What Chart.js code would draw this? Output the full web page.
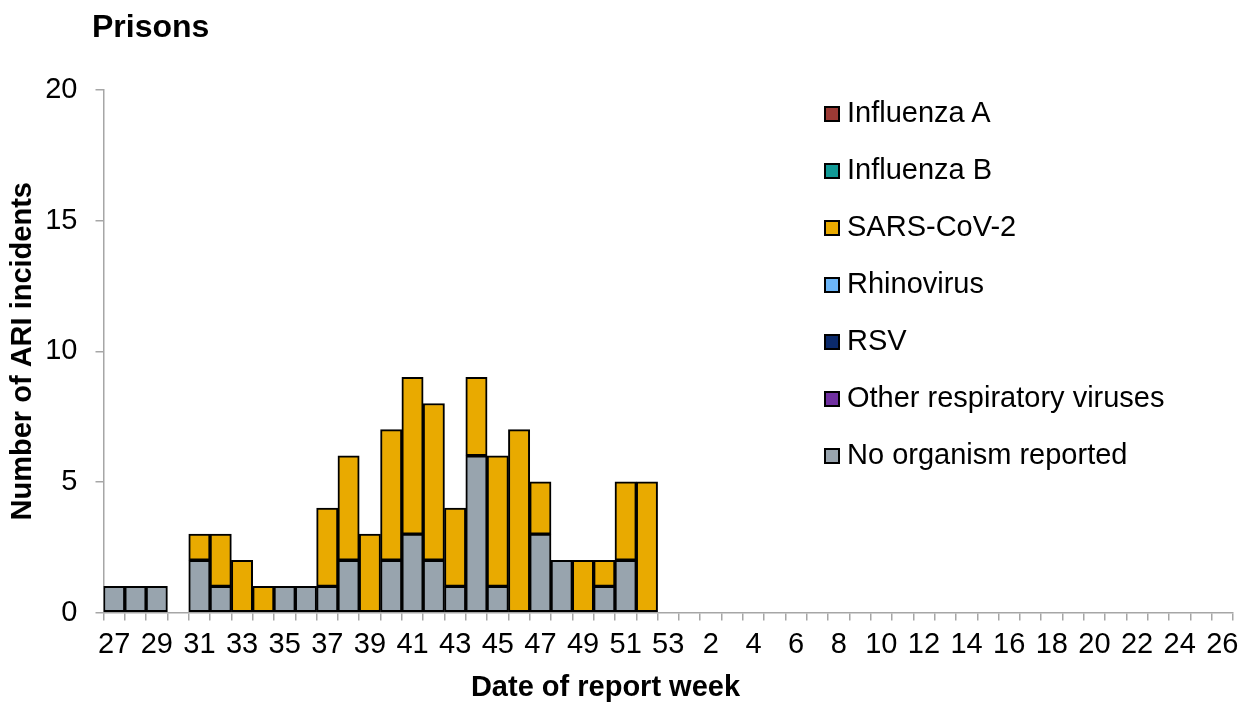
<!DOCTYPE html>
<html>
<head>
<meta charset="utf-8">
<title>Prisons</title>
<script src="https://cdn.jsdelivr.net/npm/chart.js@4.4.1/dist/chart.umd.min.js"></script>
<style>
    body { margin: 0; background: #fff; font-family: "Liberation Sans", Arial, sans-serif; color: #000; }
    #wrap { position: relative; width: 1242px; height: 702px; }
    #chart { position: absolute; left: 0; top: 0; }
    #title { position: absolute; left: 92px; top: 10px; font-size: 32px; line-height: 32px; font-weight: bold; }
    #xTitle { position: absolute; left: 0; width: 1211px; top: 672px; text-align: center; font-size: 29px; line-height: 29px; font-weight: bold; }
    #legend { position: absolute; left: 824px; top: 84px; }
    .item { height: 57px; display: flex; align-items: center; font-size: 29px; white-space: nowrap; }
    .box { width: 12px; height: 12px; border: 2.5px solid #000; margin-right: 7px; margin-top: 3px; }
</style>
</head>
<body>
<div id="wrap">
    <canvas id="chart" width="1242" height="702"></canvas>
    <div id="title">Prisons</div>
    <div id="xTitle">Date of report week</div>
    <div id="legend"></div>
</div>
<script>
// Report weeks (27-53 then 1-26)
const weeks = ["27", "28", "29", "30", "31", "32", "33", "34", "35", "36", "37", "38", "39", "40",
    "41", "42", "43", "44", "45", "46", "47", "48", "49", "50", "51", "52", "53",
    "1", "2", "3", "4", "5", "6", "7", "8", "9", "10", "11", "12", "13", "14", "15", "16", "17",
    "18", "19", "20", "21", "22", "23", "24", "25", "26"];

// Incident counts per week
const noOrganism = [1, 1, 1, 0, 2, 1, 0, 0, 1, 1, 1, 2, 0, 2, 3, 2, 1, 6, 1, 0, 3, 2, 0, 1, 2, 0, 0,
    0, 0, 0, 0, 0, 0, 0, 0, 0, 0, 0, 0, 0, 0, 0, 0, 0, 0, 0, 0, 0, 0, 0, 0, 0, 0];
const sarsCov2 = [0, 0, 0, 0, 1, 2, 2, 1, 0, 0, 3, 4, 3, 5, 6, 6, 3, 3, 5, 7, 2, 0, 2, 1, 3, 5, 0,
    0, 0, 0, 0, 0, 0, 0, 0, 0, 0, 0, 0, 0, 0, 0, 0, 0, 0, 0, 0, 0, 0, 0, 0, 0, 0];
// no incidents reported for these
const influenzaA = [];
const influenzaB = [];
const rhinovirus = [];
const rsv = [];
const otherViruses = [];

const yTicks = [0, 5, 10, 15, 20];

// legend order (top to bottom)
const seriesNames = ["Influenza A", "Influenza B", "SARS-CoV-2", "Rhinovirus", "RSV",
    "Other respiratory viruses", "No organism reported"];
const seriesData = [influenzaA, influenzaB, sarsCov2, rhinovirus, rsv, otherViruses, noOrganism];
const seriesColors = ["#9C3A35", "#119A96", "#E9AA00", "#6CB6F8", "#0B2A6B", "#7030A0", "#98A4AE"];

const FONT = "'Liberation Sans', Arial, sans-serif";
const AXIS_GREY = "#A6A6A6";

// stacked bottom-up: last legend entry sits at the bottom
const datasets = seriesNames.map((name, i) => ({
    label: name,
    data: seriesData[i],
    backgroundColor: seriesColors[i],
    borderColor: "#000",
    borderWidth: 2,
    borderSkipped: false,
    barPercentage: 1,
    categoryPercentage: 1
})).reverse();

const ctx = document.getElementById("chart").getContext("2d");
const chart = new Chart(ctx, {
    type: "bar",
    data: { labels: weeks, datasets: datasets },
    options: {
        responsive: false,
        animation: false,
        layout: { padding: { top: 90, right: 9, bottom: 0, left: 0 } },
        plugins: { legend: { display: false }, tooltip: { enabled: false }, title: { display: false } },
        scales: {
            x: {
                stacked: true,
                offset: true,
                afterFit: (scale) => {
                    scale.height = 89.5;
                    // let the last label overhang the right padding
                    scale.paddingLeft = 0;
                    scale.paddingRight = 0;
                },
                grid: { offset: true, drawOnChartArea: false, drawTicks: true, tickLength: 8, color: AXIS_GREY, lineWidth: 1.5 },
                border: { color: AXIS_GREY, width: 1.5 },
                ticks: {
                    autoSkip: false,
                    maxRotation: 0,
                    padding: 7,
                    color: "#000",
                    font: { family: FONT, size: 29 },
                    callback: (val, i) => (i % 2 === 0 ? weeks[i] : "")
                }
            },
            y: {
                stacked: true,
                min: 0,
                max: 20,
                afterFit: (scale) => { scale.width = 103.5; },
                afterBuildTicks: (scale) => { scale.ticks = yTicks.map(v => ({ value: v })); },
                grid: { drawOnChartArea: false, drawTicks: true, tickLength: 8, color: AXIS_GREY, lineWidth: 1.5 },
                border: { color: AXIS_GREY, width: 1.5 },
                ticks: { padding: 18, color: "#000", font: { family: FONT, size: 29 } },
                title: {
                    display: true,
                    text: "Number of ARI incidents",
                    color: "#000",
                    font: { family: FONT, size: 29, weight: "bold" },
                    padding: { top: 6, bottom: 0 }
                }
            }
        }
    }
});

// legend
const legendEl = document.getElementById("legend");
seriesNames.forEach((name, i) => {
    const row = document.createElement("div");
    row.className = "item";
    row.innerHTML = `<span class="box" style="background:${seriesColors[i]}"></span><span>${name}</span>`;
    legendEl.appendChild(row);
});
</script>
</body>
</html>
